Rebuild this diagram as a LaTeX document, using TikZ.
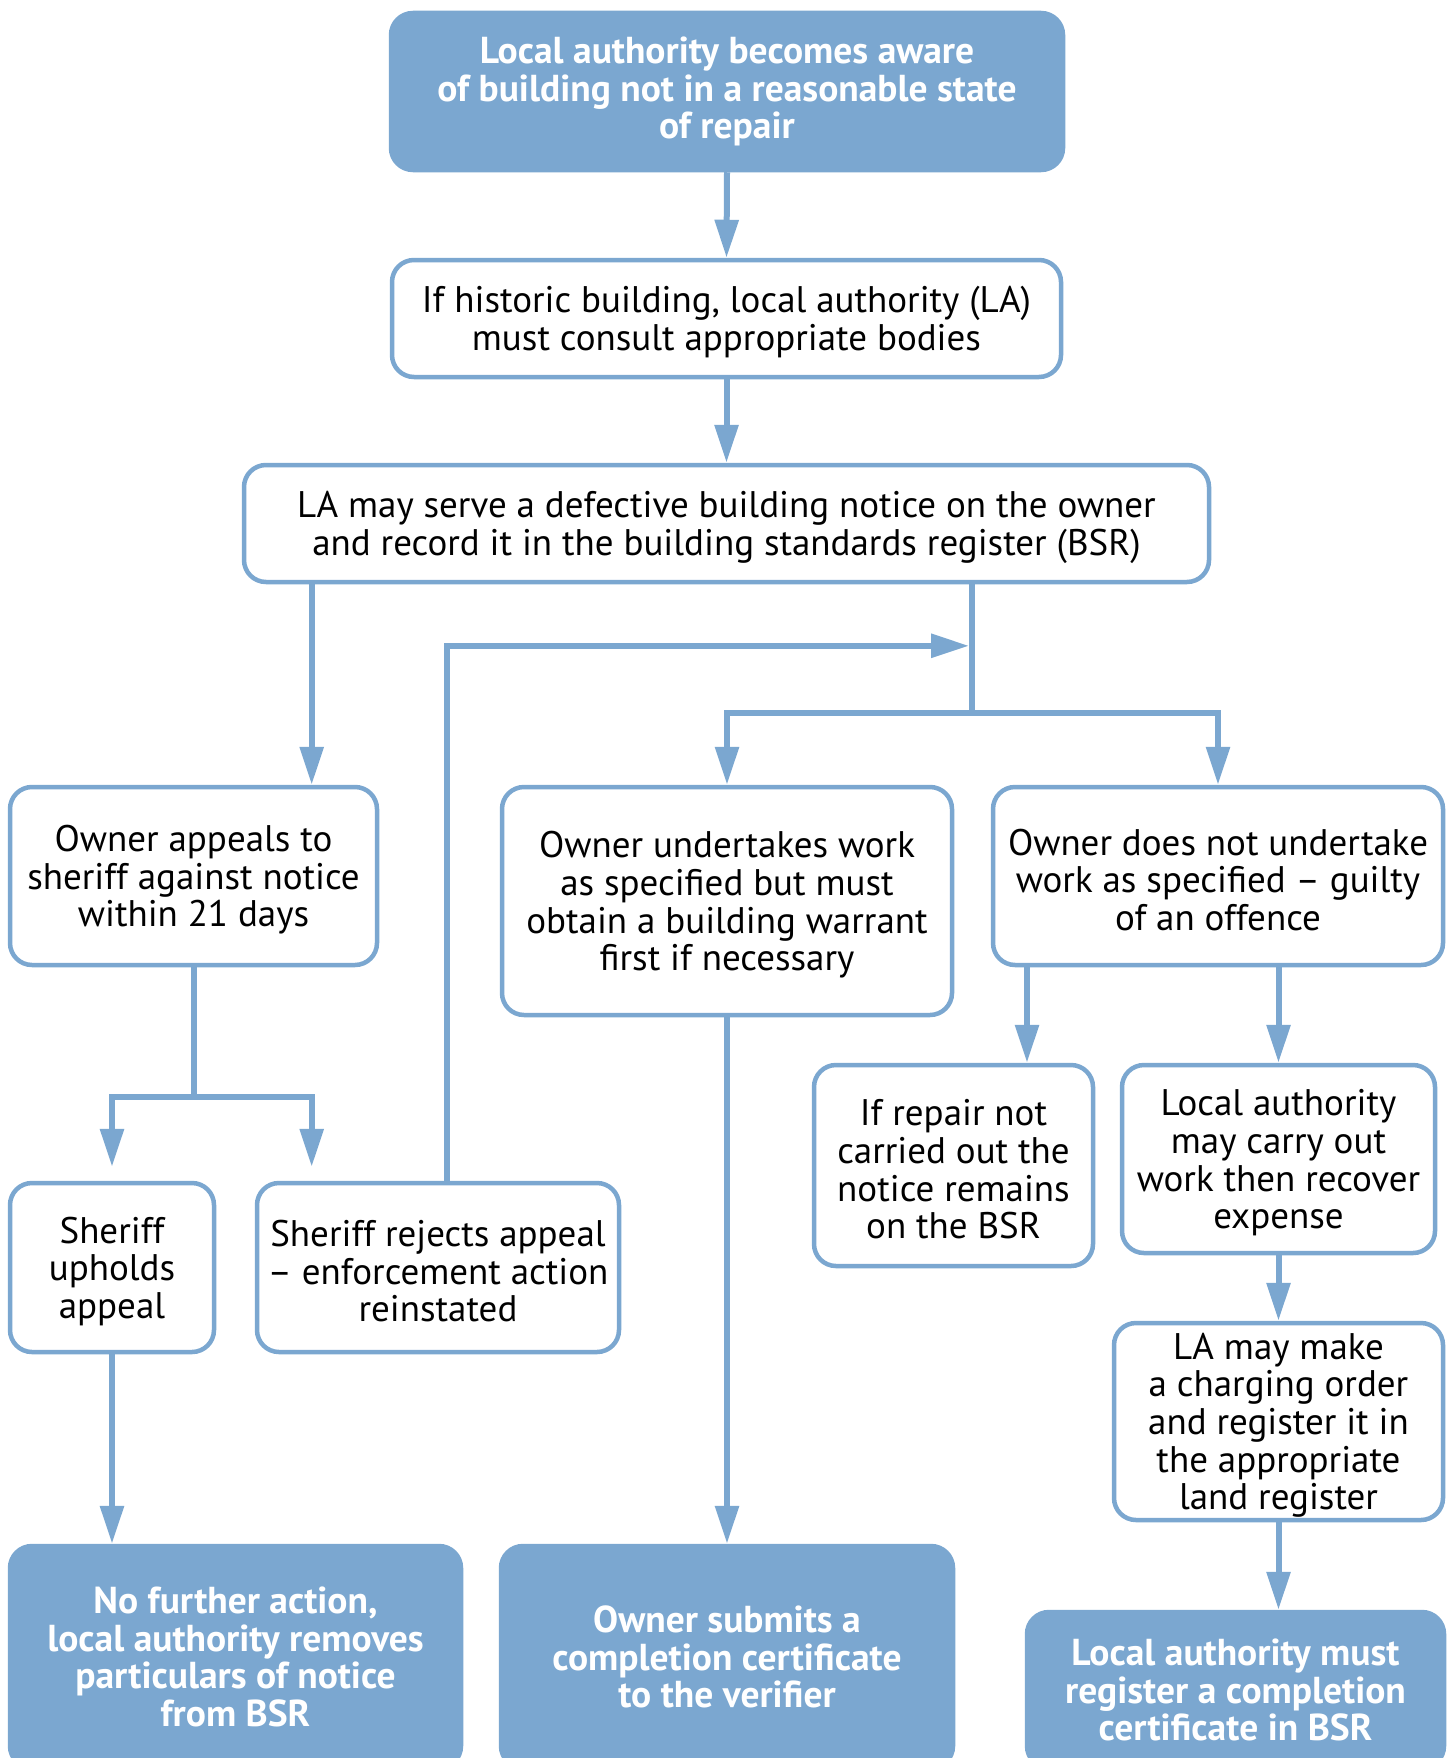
\documentclass[tikz,border=0pt]{standalone}
\usepackage{fontspec}
\setmainfont{PT Sans}
\usetikzlibrary{arrows.meta}
\definecolor{flowblue}{RGB}{123,167,208}
% taller first line, so the text block sits a little lower in its box
\newcommand{\tallfirst}{\rule{0pt}{34pt}}
\tikzset{
  boxbase/.style={draw=flowblue, line width=4.5pt, rounded corners=22pt, fill=white,
    align=center, inner sep=0pt, text=black},
  box/.style={boxbase, font=\fontsize{37}{37.7}\selectfont},
  keybox/.style={boxbase, fill=flowblue, text=white,
    font=\fontsize{37.5}{37.7}\selectfont\bfseries},
  link/.style={draw=flowblue, line width=6pt},
  arr/.style={link, -{Triangle[length=38pt,width=23pt]}},
}
\begin{document}
\begin{tikzpicture}[x=1pt,y=-1pt]
\useasboundingbox (0,0) rectangle (1453,1758);
\begin{scope}
\clip (0,0) rectangle (1453,1758);
% boxes
\node[keybox, minimum width=672pt, minimum height=157pt] (b1) at (727,91.5)
  {Local authority becomes aware\\of building not in a reasonable state\\of repair};
\node[box, minimum width=669pt, minimum height=117pt] (b2) at (726.5,318.5)
  {\tallfirst If historic building, local authority (LA)\\must consult appropriate bodies};
\node[box, minimum width=965pt, minimum height=117pt] (b3) at (726.5,523.5)
  {\tallfirst LA may serve a defective building notice on the owner\\and record it in the building standards register (BSR)};
\node[box, minimum width=367pt, minimum height=178pt] (b4) at (193.5,876)
  {\tallfirst Owner appeals to\\sheriff against notice\\within 21 days};
\node[box, minimum width=450pt, minimum height=228pt] (b5) at (727,901)
  {\tallfirst Owner undertakes work\\as specified but must\\obtain a building warrant\\first if necessary};
\node[box, minimum width=450pt, minimum height=178pt] (b6) at (1218,876)
  {\tallfirst Owner does not undertake\\work as specified -- guilty\\of an offence};
\node[box, minimum width=204pt, minimum height=169pt] (b7) at (112,1267.5)
  {\tallfirst Sheriff\\upholds\\appeal};
\node[box, minimum width=362pt, minimum height=169pt] (b8) at (438,1267.5)
  {\tallfirst Sheriff rejects appeal\\-- enforcement action\\reinstated};
\node[box, minimum width=279pt, minimum height=201pt] (b9) at (953.5,1165.5)
  {\tallfirst If repair not\\carried out the\\notice remains\\on the BSR};
\node[box, minimum width=313pt, minimum height=188pt] (b10) at (1278.5,1159)
  {\tallfirst Local authority\\may carry out\\work then recover\\expense};
\node[box, minimum width=329pt, minimum height=197pt] (b11) at (1278.5,1421.5)
  {\tallfirst LA may make\\a charging order\\and register it in\\the appropriate\\land register};
\node[keybox, minimum width=451pt, minimum height=222pt] (b12) at (235.5,1657)
  {No further action,\\local authority removes\\particulars of notice\\from BSR};
\node[keybox, minimum width=452pt, minimum height=222pt] (b13) at (727,1657)
  {Owner submits a\\completion certificate\\to the verifier};
\node[keybox, minimum width=417pt, minimum height=156pt] (b14) at (1235.5,1690)
  {Local authority must\\register a completion\\certificate in BSR};
\end{scope}
% routing points
\coordinate (xa) at (311.7,0);
\coordinate (jr) at (972,713);
\coordinate (yl) at (0,1096.5);
\coordinate (xl) at (447,0);
\coordinate (lp) at (969,645.8);
\coordinate (xn) at (1027,0);
% connectors
\draw[arr] (b1.south) -- (b2.north);
\draw[arr] (b2.south) -- (b3.north);
\draw[arr] (b3.south -| xa) -- (b4.north -| xa);
\draw[link] (b3.south -| jr) -- (jr);
\draw[arr] (jr) -| (b5.north);
\draw[arr] (jr) -| (b6.north);
\coordinate (jl) at (b4.south |- yl);
\draw[link] (b4.south) -- (jl);
\draw[arr, shorten >=14pt] (jl) -| (b7.north);
\draw[arr, shorten >=14pt] (jl) -| (b8.north -| xa);
\draw[arr] (b8.north -| xl) |- (lp);
\draw[arr] (b6.south -| xn) -- (b9.north -| xn);
\draw[arr] (b6.south -| b10.north) -- (b10.north);
\draw[arr] (b10.south) -- (b11.north);
\draw[arr] (b11.south) -- (b14.north -| b11.south);
\draw[arr] (b5.south) -- (b13.north);
\draw[arr] (b7.south) -- (b12.north -| b7.south);
\end{tikzpicture}
\end{document}
